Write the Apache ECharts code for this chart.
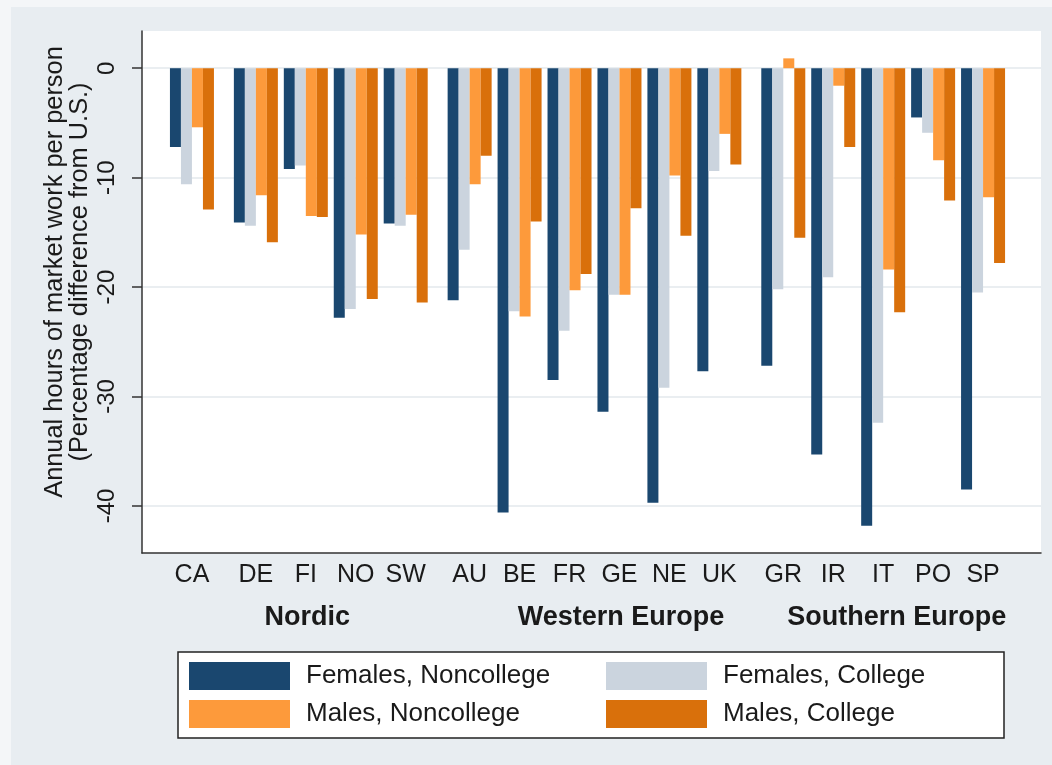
<!DOCTYPE html>
<html><head><meta charset="utf-8">
<script src="https://cdn.jsdelivr.net/npm/echarts@6/dist/echarts.min.js"></script>
<style>html,body{margin:0;padding:0;background:#e8edf1}#c{width:1052px;height:765px}</style>
</head><body><div id="c"></div>
<script>
// ---------- data ----------
const categories = ['CA','DE','FI','NO','SW','AU','BE','FR','GE','NE','UK','GR','IR','IT','PO','SP'];
const clusterIndex = [0,1,1,1,1,2,2,2,2,2,2,3,3,3,3,3];
const groupNames = ['Nordic','Western Europe','Southern Europe'];
const seriesNames = ['Females, Noncollege','Females, College','Males, Noncollege','Males, College'];
const femalesNoncollege = [-7.2,-14.1,-9.2,-22.8,-14.2,-21.2,-40.6,-28.5,-31.4,-39.7,-27.7,-27.2,-35.3,-41.8,-4.5,-38.5];
const femalesCollege    = [-10.6,-14.4,-8.9,-22.0,-14.4,-16.6,-22.2,-24.0,-20.7,-29.2,-9.4,-20.2,-19.1,-32.4,-5.9,-20.5];
const malesNoncollege   = [-5.4,-11.6,-13.5,-15.2,-13.4,-10.6,-22.7,-20.3,-20.7,-9.8,-6.0,0.9,-1.6,-18.4,-8.4,-11.8];
const malesCollege      = [-12.9,-15.9,-13.6,-21.1,-21.4,-8.0,-14.0,-18.8,-12.8,-15.3,-8.8,-15.5,-7.2,-22.3,-12.1,-17.8];
const yTicks = [0,-10,-20,-30,-40];

// ---------- layout ----------
const FONT = '"Liberation Sans", Arial, sans-serif';
const colors = ['#1a476f','#cbd4de','#fd9a3b','#d9700b'];
const clusterGap = 0.28;
const positions = categories.map((c,i)=> i + clusterIndex[i]*clusterGap);
const groupLabelPos = [2.31, 8.59, 14.11];
const allSeries = [femalesNoncollege, femalesCollege, malesNoncollege, malesCollege];

const chart = echarts.init(document.getElementById('c'));
chart.setOption({
  backgroundColor: '#e8edf1',
  animation: false,
  textStyle: {fontFamily: FONT},
  grid: {left: 142, top: 31, width: 899, height: 522, show: true, backgroundColor: '#ffffff', borderWidth: 0},
  xAxis: [
    {
      type: 'value', min: -1, max: 17, position: 'bottom',
      axisLine: {show: true, onZero: false, lineStyle: {color: '#333', width: 1.5}},
      axisTick: {show: false},
      splitLine: {show: false},
      axisLabel: {
        customValues: positions, margin: 10, fontSize: 25, color: '#1a1a1a', fontFamily: FONT,
        formatter: v => { const i = positions.findIndex(p => Math.abs(p - v) < 1e-6); return i >= 0 ? categories[i] : ''; }
      }
    },
    {
      type: 'value', min: -1, max: 17, position: 'bottom', gridIndex: 0,
      axisLine: {show: false, onZero: false}, axisTick: {show: false}, splitLine: {show: false},
      axisLabel: {
        customValues: groupLabelPos, margin: 51, fontSize: 27, fontWeight: 'bold', color: '#1a1a1a', fontFamily: FONT,
        formatter: v => { const i = groupLabelPos.findIndex(p => Math.abs(p - v) < 1e-6); return i >= 0 ? groupNames[i] : ''; }
      }
    }
  ],
  yAxis: {
    type: 'value', min: -44.3, max: 3.4,
    axisLine: {show: true, onZero: false, lineStyle: {color: '#333', width: 1.5}},
    axisTick: {show: true, length: 10, customValues: yTicks, lineStyle: {color: '#333', width: 1.5}},
    splitLine: {show: true, lineStyle: {color: '#eaeef1', width: 2}},
    axisLabel: {customValues: yTicks, rotate: 90, margin: 23, fontSize: 24, color: '#1a1a1a', fontFamily: FONT}
  },
  legend: [
    {orient: 'vertical', left: 189, top: 662, padding: 0, itemWidth: 101, itemHeight: 28, itemGap: 10, icon: 'rect',
     selectedMode: false, data: [seriesNames[0], seriesNames[2]],
     textStyle: {fontSize: 26, color: '#1a1a1a', fontFamily: FONT, padding: [0,0,0,11]}},
    {orient: 'vertical', left: 606, top: 662, padding: 0, itemWidth: 101, itemHeight: 28, itemGap: 10, icon: 'rect',
     selectedMode: false, data: [seriesNames[1], seriesNames[3]],
     textStyle: {fontSize: 26, color: '#1a1a1a', fontFamily: FONT, padding: [0,0,0,11]}}
  ],
  graphic: [
    {type: 'rect', z: -10, shape: {x: 0, y: 0, width: 11, height: 765}, style: {fill: '#f4f6f8'}},
    {type: 'rect', z: -10, shape: {x: 0, y: 0, width: 1052, height: 7}, style: {fill: '#f4f6f8'}},
    {type: 'rect', z: 0, shape: {x: 178, y: 652, width: 826, height: 86}, style: {fill: '#ffffff', stroke: '#222', lineWidth: 1.5}},
    {type: 'text', x: 67, y: 272, rotation: Math.PI/2,
     style: {text: 'Annual hours of market work per person\n(Percentage difference from U.S.)',
             fontSize: 25.4, fontFamily: FONT, fill: '#1a1a1a', align: 'center', verticalAlign: 'middle', lineHeight: 25}}
  ],
  series: allSeries.map((vals, k) => ({
    name: seriesNames[k], type: 'bar', xAxisIndex: 0,
    barWidth: 11, barGap: '0%',
    itemStyle: {color: colors[k]},
    data: vals.map((v, i) => [positions[i], v])
  }))
});
</script></body></html>
